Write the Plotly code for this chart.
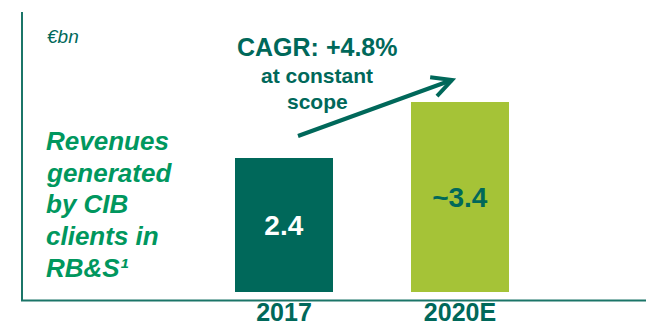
import numpy as np
import plotly.graph_objects as go

# Revenue data (EUR bn)
categories = ["2017", "2020E"]
revenues = [2.4, 3.4]
value_labels = ["2.4", "~3.4"]
bar_colors = ["#00685A", "#A5C337"]
value_label_colors = ["#FFFFFF", "#00685A"]

side_title_lines = ["Revenues", "generated", "by CIB", "clients in", "RB&S¹"]
cagr_lines = ["CAGR: +4.8%", "at constant", "scope"]

TEAL = "#00685A"
GREEN = "#00975E"
AXIS = "#1B7568"
FONT = "Liberation Sans, Arial, sans-serif"

W, H = 646, 329
PLOT_H = 292  # pixel height of the plotting area (top margin 0)


def fx(px):
    return px / W


def fy(py):
    return (PLOT_H - py) / PLOT_H


x_pos = list(range(len(categories)))

fig = go.Figure(
    go.Bar(
        x=x_pos,
        y=revenues,
        width=0.557,
        marker=dict(color=bar_colors, line=dict(width=0)),
        text=value_labels,
        textposition="inside",
        insidetextanchor="middle",
        constraintext="none",
        textfont=dict(family=FONT, size=28, color=value_label_colors, weight="bold"),
        hoverinfo="skip",
    )
)

# axis frame lines
shapes = [
    dict(type="line", xref="paper", yref="paper", x0=fx(22), x1=fx(22), y0=fy(12), y1=fy(300.5),
         line=dict(color=AXIS, width=2)),
    dict(type="line", xref="paper", yref="paper", x0=fx(21), x1=1.0, y0=fy(300.5), y1=fy(300.5),
         line=dict(color=AXIS, width=2.2)),
]

# growth arrow with open chevron head
tail = np.array([298.0, 136.0])
tip = np.array([452.0, 80.0])
back = (tail - tip) / np.linalg.norm(tail - tip)
arm_len, ang = 22.0, np.radians(27)
arms = []
for a in (ang, -ang):
    rot = np.array([[np.cos(a), -np.sin(a)], [np.sin(a), np.cos(a)]])
    arms.append(tip + arm_len * rot @ back)

shapes.append(dict(type="line", xref="paper", yref="paper",
                   x0=fx(tail[0]), y0=fy(tail[1]), x1=fx(tip[0]), y1=fy(tip[1]),
                   line=dict(color=TEAL, width=4)))
path = "M {} {} L {} {} L {} {}".format(
    fx(arms[0][0]), fy(arms[0][1]), fx(tip[0]), fy(tip[1]), fx(arms[1][0]), fy(arms[1][1]))
shapes.append(dict(type="path", xref="paper", yref="paper", path=path,
                   line=dict(color=TEAL, width=4)))

annotations = [
    dict(text="<i>€bn</i>", x=fx(45), y=fy(36), xref="paper", yref="paper",
         xanchor="left", yanchor="middle", showarrow=False,
         font=dict(family=FONT, size=19, color=TEAL)),
]

# CAGR caption
cagr_y = [47, 75, 101]
cagr_sizes = [25, 21, 21]
for line, yy, sz in zip(cagr_lines, cagr_y, cagr_sizes):
    annotations.append(dict(text=f"<b>{line}</b>", x=fx(317), y=fy(yy), xref="paper", yref="paper",
                            xanchor="center", yanchor="middle", showarrow=False,
                            font=dict(family=FONT, size=sz, color=TEAL)))

# side title
for i, line in enumerate(side_title_lines):
    annotations.append(dict(text=f"<b><i>{line}</i></b>", x=fx(44), y=fy(141 + 31.7 * i),
                            xref="paper", yref="paper", xanchor="left", yanchor="middle",
                            showarrow=False, font=dict(family=FONT, size=26, color=GREEN)))

fig.update_layout(
    width=W,
    height=H,
    margin=dict(l=0, r=0, t=0, b=H - PLOT_H, autoexpand=False),
    paper_bgcolor="white",
    plot_bgcolor="white",
    showlegend=False,
    bargap=0,
    xaxis=dict(
        range=[-284 / 176, (W - 284) / 176],
        tickvals=x_pos,
        ticktext=categories,
        tickfont=dict(family=FONT, size=25, color=TEAL, weight="bold"),
        ticks="",
        ticklabelstandoff=3,
        automargin=False,
        showgrid=False,
        zeroline=False,
        showline=False,
        fixedrange=True,
    ),
    yaxis=dict(
        range=[0, PLOT_H / 56.0],
        visible=False,
        fixedrange=True,
    ),
    shapes=shapes,
    annotations=annotations,
    hovermode=False,
)

fig.write_html("out.html", config={"displayModeBar": False})
